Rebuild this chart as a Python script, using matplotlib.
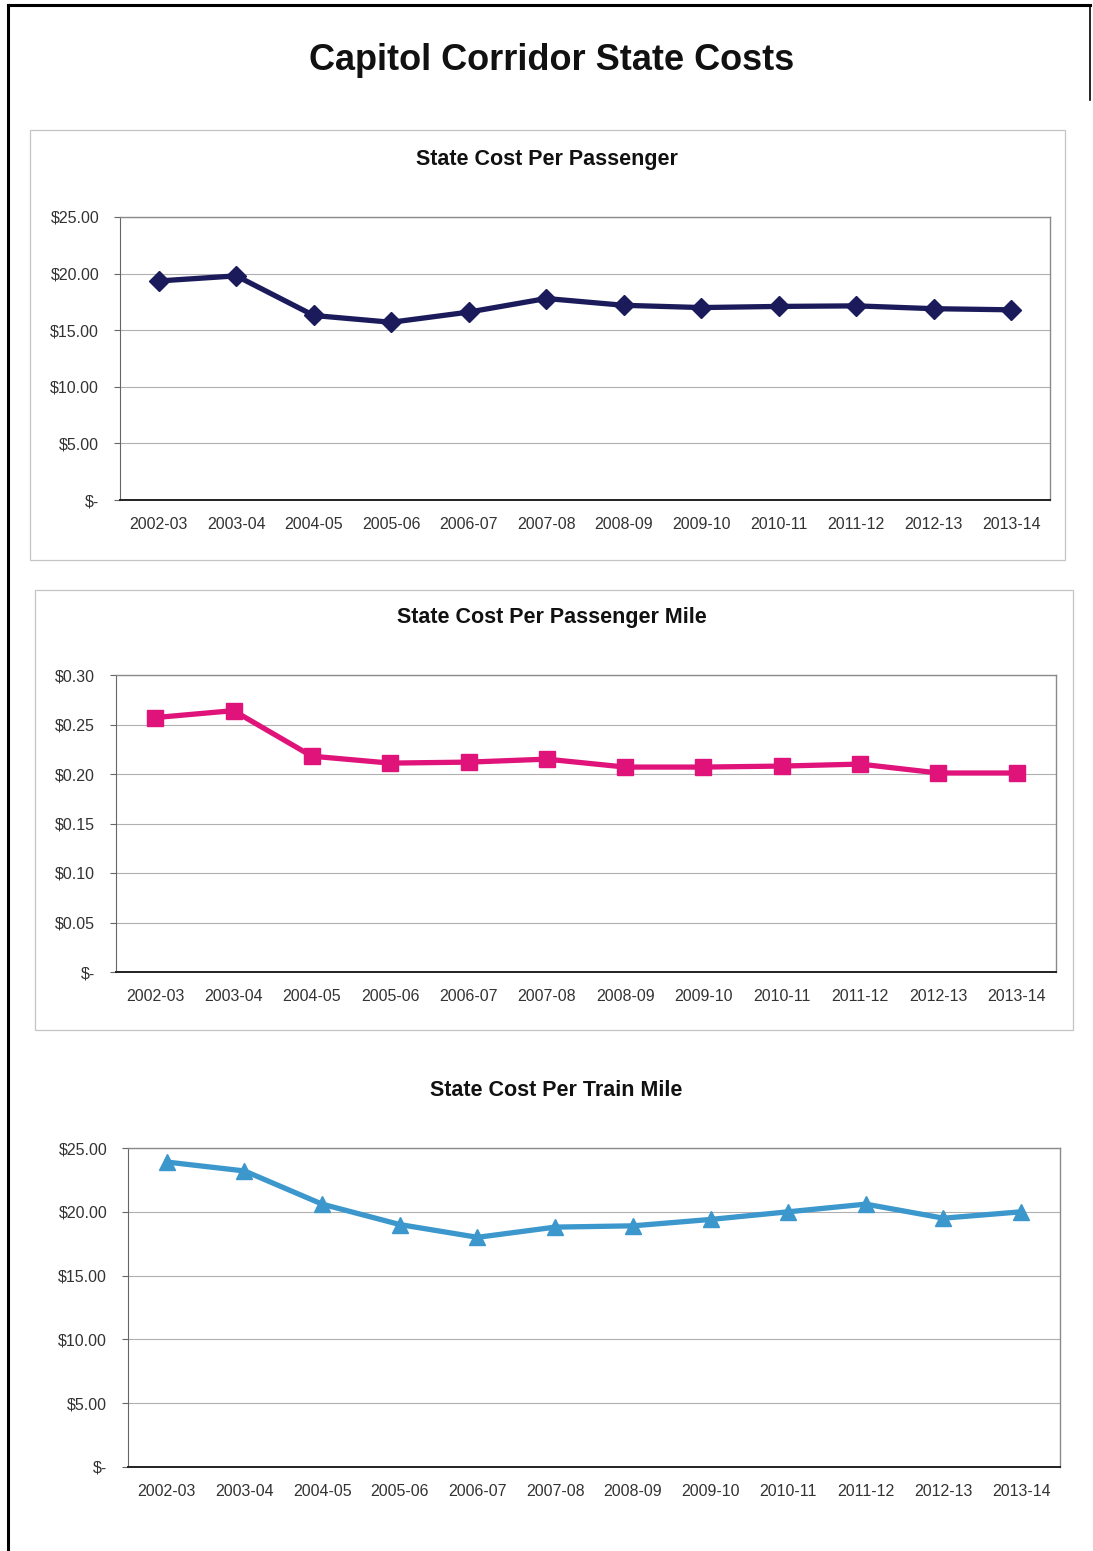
import matplotlib
matplotlib.use("Agg")
import matplotlib.pyplot as plt
from matplotlib.lines import Line2D
from matplotlib.patches import Rectangle

plt.rcParams["font.family"] = ["Liberation Sans", "DejaVu Sans"]

years = ["2002-03", "2003-04", "2004-05", "2005-06", "2006-07", "2007-08",
         "2008-09", "2009-10", "2010-11", "2011-12", "2012-13", "2013-14"]
cost_per_passenger = [19.35, 19.8, 16.3, 15.7, 16.6, 17.8, 17.2, 17.0, 17.1, 17.15, 16.9, 16.8]
cost_per_pass_mile = [0.257, 0.264, 0.218, 0.211, 0.212, 0.215, 0.207, 0.207, 0.208, 0.210, 0.201, 0.201]
cost_per_train_mile = [23.9, 23.2, 20.6, 19.0, 18.0, 18.8, 18.9, 19.4, 20.0, 20.6, 19.5, 20.0]

ticks_dollars = [0, 5, 10, 15, 20, 25]
labels_dollars = ["$-", "$5.00", "$10.00", "$15.00", "$20.00", "$25.00"]
ticks_cents = [0, 0.05, 0.10, 0.15, 0.20, 0.25, 0.30]
labels_cents = ["$-", "$0.05", "$0.10", "$0.15", "$0.20", "$0.25", "$0.30"]

W, H = 1093, 1551
fig = plt.figure(figsize=(W / 100, H / 100), dpi=100)
fig.patch.set_facecolor("white")

def px_rect(x0, y0, x1, y1):
    return [x0 / W, 1 - y1 / H, (x1 - x0) / W, (y1 - y0) / H]

# page border
fig.add_artist(Line2D([8 / W, 8 / W], [0, 1 - 5 / H], color="black", lw=2.2, transform=fig.transFigure))
fig.add_artist(Line2D([8 / W, 1090 / W], [1 - 5 / H, 1 - 5 / H], color="black", lw=2.2, transform=fig.transFigure))
fig.add_artist(Line2D([1090 / W, 1090 / W], [1 - 5 / H, 1 - 100 / H], color="black", lw=1.2, transform=fig.transFigure))

# panel frames
for (x0, y0, x1, y1) in [(30, 130, 1065, 560), (35, 590, 1073, 1030)]:
    r = px_rect(x0, y0, x1, y1)
    fig.add_artist(Rectangle((r[0], r[1]), r[2], r[3], transform=fig.transFigure,
                             fill=False, edgecolor="#c4c4c4", lw=0.9))

fig.text(552 / W, 1 - 60 / H, "Capitol Corridor State Costs", ha="center", va="center",
         fontsize=26, fontweight="bold", color="#111111")

def draw(rect, title, title_x, title_y, values, color, marker, msize, ticks, labels, ymax):
    ax = fig.add_axes(px_rect(*rect))
    x = list(range(len(years)))
    ax.plot(x, values, color=color, lw=3.8, marker=marker, markersize=msize,
            markerfacecolor=color, markeredgecolor=color, zorder=3)
    ax.set_xlim(-0.5, len(years) - 0.5)
    ax.set_ylim(0, ymax)
    ax.set_yticks(ticks)
    ax.set_yticklabels(labels, fontsize=11.5, color="#333333")
    ax.set_xticks(x)
    ax.set_xticklabels(years, fontsize=11.5, color="#333333")
    ax.tick_params(axis="x", length=0, pad=12)
    ax.tick_params(axis="y", length=4, pad=11, color="#666666")
    ax.grid(axis="y", color="#b0b0b0", lw=0.8)
    ax.set_axisbelow(True)
    for s in ["top", "right"]:
        ax.spines[s].set_color("#8a8a8a")
        ax.spines[s].set_linewidth(1.0)
    ax.spines["left"].set_color("#666666")
    ax.spines["bottom"].set_color("#222222")
    ax.spines["bottom"].set_linewidth(1.4)
    fig.text(title_x / W, 1 - title_y / H, title, ha="center", va="center",
             fontsize=15.5, fontweight="bold", color="#111111")
    return ax

draw((120, 217, 1050, 500), "State Cost Per Passenger", 547, 160, cost_per_passenger,
     "#1b1b5c", "D", 10, ticks_dollars, labels_dollars, 25)
draw((116, 675, 1056, 972), "State Cost Per Passenger Mile", 552, 618, cost_per_pass_mile,
     "#e0137a", "s", 11, ticks_cents, labels_cents, 0.30)
draw((128, 1148, 1060, 1467), "State Cost Per Train Mile", 556, 1091, cost_per_train_mile,
     "#3b97cc", "^", 12, ticks_dollars, labels_dollars, 25)

fig.savefig("out.png", dpi=100, facecolor="white")
